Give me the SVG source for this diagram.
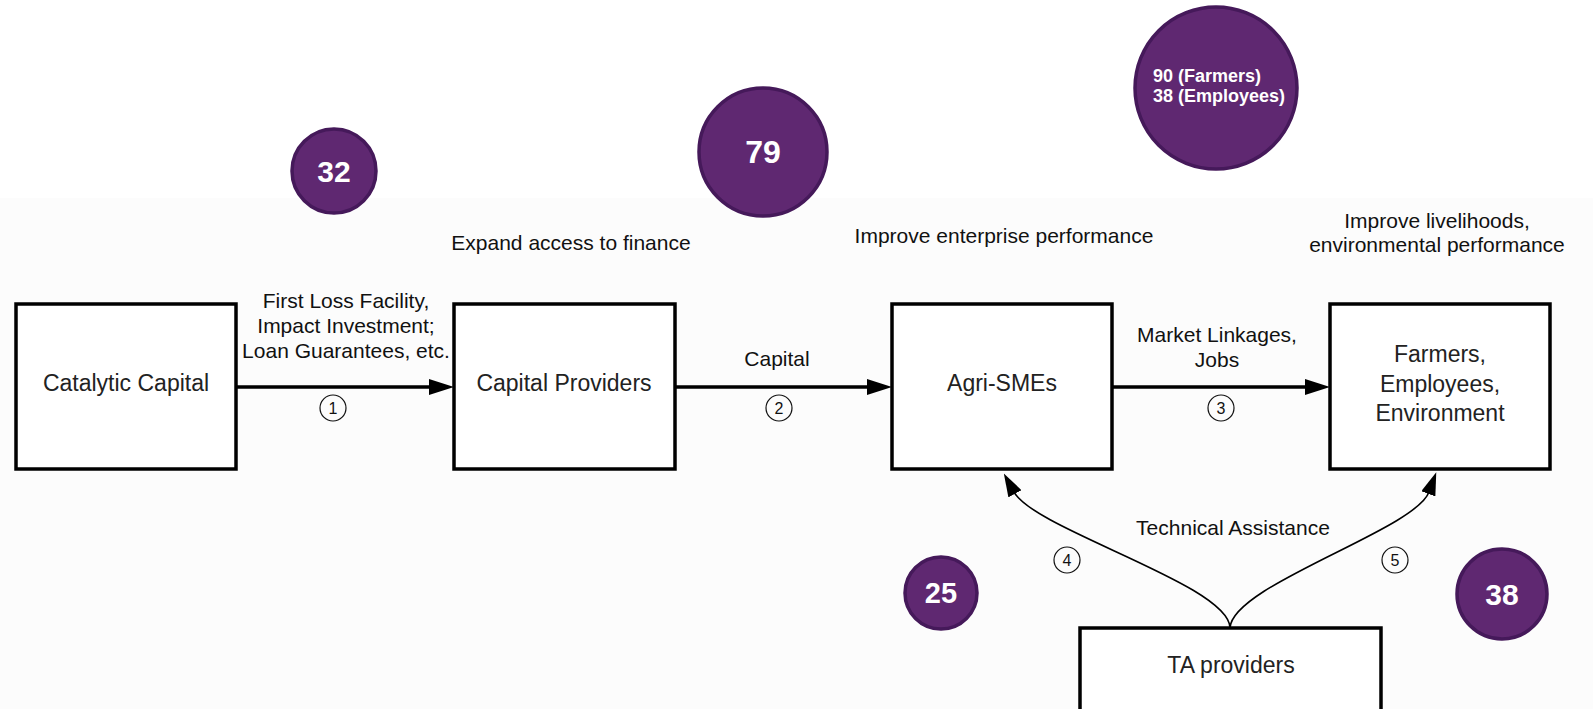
<svg xmlns="http://www.w3.org/2000/svg" width="1593" height="709" viewBox="0 0 1593 709">
<defs>
<style>
.box{fill:#fff;stroke:#000;stroke-width:3.5}
.bt{font-family:"Liberation Sans",Arial,sans-serif;font-size:23px;fill:#222;text-anchor:middle}
.lb{font-family:"Liberation Sans",Arial,sans-serif;font-size:21px;fill:#111;text-anchor:middle}
.num{font-family:"Liberation Sans",Arial,sans-serif;font-size:16px;fill:#111;text-anchor:middle}
.nc{fill:none;stroke:#111;stroke-width:1.2}
.bub{fill:#5f2871;stroke:#45195a;stroke-width:3.5}
.bubt{font-family:"Liberation Sans",Arial,sans-serif;font-weight:bold;fill:#fff;text-anchor:middle}
.edge{fill:none;stroke:#000;stroke-width:3.5}
.curve{fill:none;stroke:#000;stroke-width:1.6}
</style>
<marker id="ah" markerUnits="userSpaceOnUse" markerWidth="25" markerHeight="16" viewBox="0 0 25 16" refX="2" refY="8" orient="auto">
<path d="M0,0 L25,8 L0,16 z" fill="#000"/>
</marker>
<marker id="ah2" markerUnits="userSpaceOnUse" markerWidth="23" markerHeight="15" viewBox="0 0 23 15" refX="2" refY="7.5" orient="auto">
<path d="M0,0 L23,7.5 L0,15 z" fill="#000"/>
</marker>
</defs>
<rect x="0" y="0" width="1593" height="709" fill="#ffffff"/>
<rect x="0" y="198" width="1593" height="511" fill="#fcfcfc"/>

<g id="connectors">
<line class="edge" x1="236" y1="387" x2="431" y2="387" marker-end="url(#ah)"/>
<line class="edge" x1="675" y1="387" x2="869" y2="387" marker-end="url(#ah)"/>
<line class="edge" x1="1112" y1="387" x2="1307" y2="387" marker-end="url(#ah)"/>
<path class="curve" d="M1230,628 C1230,585 1035,530 1014,492" marker-end="url(#ah2)"/>
<path class="curve" d="M1230,628 C1232,585 1415,530 1429,492" marker-end="url(#ah2)"/>
<text class="lb" x="346" y="308">First Loss Facility,</text>
<text class="lb" x="346" y="333">Impact Investment;</text>
<text class="lb" x="346" y="358">Loan Guarantees, etc.</text>
<text class="lb" x="777" y="366">Capital</text>
<text class="lb" x="1217" y="342">Market Linkages,</text>
<text class="lb" x="1217" y="367">Jobs</text>
<text class="lb" x="1233" y="535">Technical Assistance</text>
<g id="n1"><circle class="nc" cx="333" cy="408" r="13"/><text class="num" x="333" y="414">1</text></g>
<g id="n2"><circle class="nc" cx="779" cy="408" r="13"/><text class="num" x="779" y="414">2</text></g>
<g id="n3"><circle class="nc" cx="1221" cy="408" r="13"/><text class="num" x="1221" y="414">3</text></g>
<g id="n4"><circle class="nc" cx="1067" cy="560" r="13"/><text class="num" x="1067" y="566">4</text></g>
<g id="n5"><circle class="nc" cx="1395" cy="560" r="13"/><text class="num" x="1395" y="566">5</text></g>
</g>

<g id="catalytic-capital">
<rect class="box" x="16" y="304" width="220" height="165"/>
<text class="bt" x="126" y="391">Catalytic Capital</text>
</g>
<g id="capital-providers">
<rect class="box" x="454" y="304" width="221" height="165"/>
<text class="bt" x="564" y="391">Capital Providers</text>
</g>
<g id="agri-smes">
<rect class="box" x="892" y="304" width="220" height="165"/>
<text class="bt" x="1002" y="391">Agri-SMEs</text>
</g>
<g id="farmers">
<rect class="box" x="1330" y="304" width="220" height="165"/>
<text class="bt" x="1440" y="362">Farmers,</text>
<text class="bt" x="1440" y="392">Employees,</text>
<text class="bt" x="1440" y="421">Environment</text>
</g>
<g id="ta-providers">
<rect class="box" x="1080" y="628" width="301" height="100"/>
<text class="bt" x="1231" y="673">TA providers</text>
</g>

<g id="headers">
<text class="lb" x="571" y="250">Expand access to finance</text>
<text class="lb" x="1004" y="243">Improve enterprise performance</text>
<text class="lb" x="1437" y="228">Improve livelihoods,</text>
<text class="lb" x="1437" y="252">environmental performance</text>
</g>

<g id="bubble-32">
<circle class="bub" cx="334" cy="171" r="42"/>
<text class="bubt" x="334" y="182" font-size="30">32</text>
</g>
<g id="bubble-79">
<circle class="bub" cx="763" cy="152" r="64"/>
<text class="bubt" x="763" y="163" font-size="32">79</text>
</g>
<g id="bubble-farmers">
<circle class="bub" cx="1216" cy="88" r="81"/>
<text class="bubt" x="1153" y="82" font-size="18" style="text-anchor:start">90 (Farmers)</text>
<text class="bubt" x="1153" y="102" font-size="18" style="text-anchor:start">38 (Employees)</text>
</g>
<g id="bubble-25">
<circle class="bub" cx="941" cy="593" r="36"/>
<text class="bubt" x="941" y="603" font-size="29">25</text>
</g>
<g id="bubble-38">
<circle class="bub" cx="1502" cy="594" r="45"/>
<text class="bubt" x="1502" y="605" font-size="30">38</text>
</g>
</svg>
